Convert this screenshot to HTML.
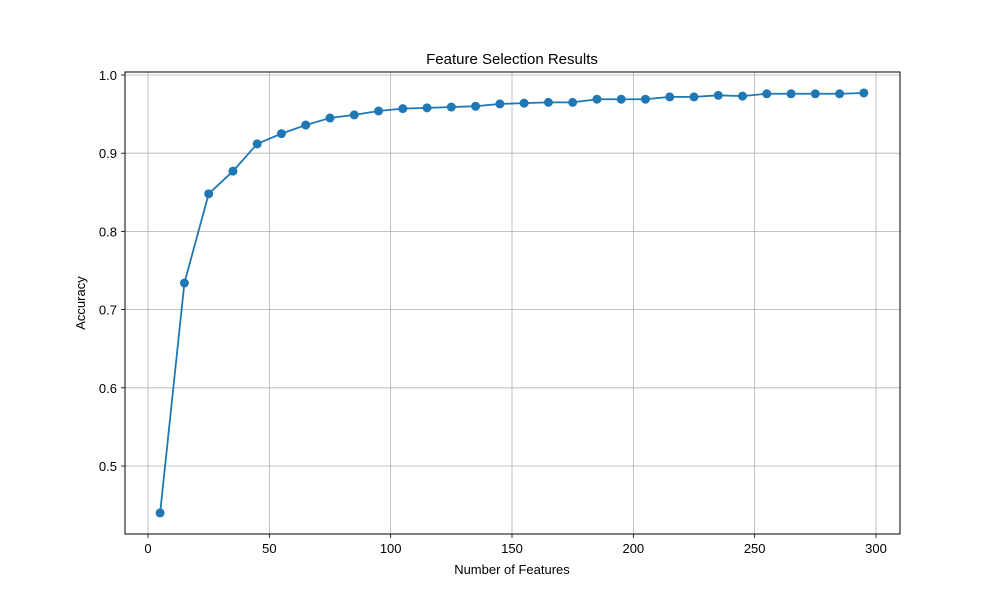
<!DOCTYPE html>
<html><head><meta charset="utf-8"><style>
body{margin:0;background:#fff}
svg text{font-family:"Liberation Sans","DejaVu Sans",sans-serif;fill:#000}
</style></head><body>
<svg id="chart" width="1000" height="600" xmlns="http://www.w3.org/2000/svg">
<rect width="1000" height="600" fill="#fff"/>
<g id="grid"></g>
<g id="ticks"></g>
<rect x="125" y="72" width="775" height="462" fill="none" stroke="#000" stroke-width="1"/>
<g id="series"></g>
<text x="512" y="64" font-size="15" text-anchor="middle">Feature Selection Results</text>
<text x="512" y="574" font-size="13" text-anchor="middle">Number of Features</text>
<text x="85" y="303" font-size="13" text-anchor="middle" transform="rotate(-90 85 303)">Accuracy</text>
</svg>
<script>
const features=[5,15,25,35,45,55,65,75,85,95,105,115,125,135,145,155,165,175,185,195,205,215,225,235,245,255,265,275,285,295];
const accuracy=[0.440,0.734,0.848,0.877,0.912,0.925,0.936,0.945,0.949,0.954,0.957,0.958,0.959,0.960,0.963,0.964,0.965,0.965,0.969,0.969,0.969,0.972,0.972,0.974,0.973,0.976,0.976,0.976,0.976,0.977];
const xTicks=[0,50,100,150,200,250,300];
const yTicks=[0.5,0.6,0.7,0.8,0.9,1.0];
const NS='http://www.w3.org/2000/svg';
const xs=v=>148+(v-0)*(876-148)/300;
const ys=v=>75+(1.0-v)*(466-75)/0.5;
function mk(tag,attrs,parent){const e=document.createElementNS(NS,tag);for(const k in attrs)e.setAttribute(k,attrs[k]);parent.appendChild(e);return e;}
const grid=document.getElementById('grid'),ticks=document.getElementById('ticks'),series=document.getElementById('series');
xTicks.forEach(t=>{const x=xs(t);
 const g=mk('line',{x1:x,x2:x,y1:72,y2:534,stroke:'#b0b0b0','stroke-width':0.8},grid);
 
 
 mk('line',{x1:x,x2:x,y1:534,y2:538,stroke:'#000','stroke-width':0.8},ticks);
 const l=mk('text',{x:x,y:553,'font-size':13,'text-anchor':'middle'},ticks);l.textContent=t;
 
 
});
yTicks.forEach(t=>{const y=ys(t);
 const g=mk('line',{x1:125,x2:900,y1:y,y2:y,stroke:'#b0b0b0','stroke-width':0.8},grid);
 
 
 mk('line',{x1:121,x2:125,y1:y,y2:y,stroke:'#000','stroke-width':0.8},ticks);
 const l=mk('text',{x:117,y:y+5,'font-size':13,'text-anchor':'end'},ticks);l.textContent=t.toFixed(1);
 
 
});
const pl=mk('polyline',{points:features.map((f,i)=>xs(f)+','+ys(accuracy[i])).join(' '),fill:'none',stroke:'#1f77b4','stroke-width':1.8},series);


features.forEach((f,i)=>{const c=mk('circle',{cx:xs(f),cy:ys(accuracy[i]),r:4.5,fill:'#1f77b4'},series);
 
 
});
</script>
</body></html>
